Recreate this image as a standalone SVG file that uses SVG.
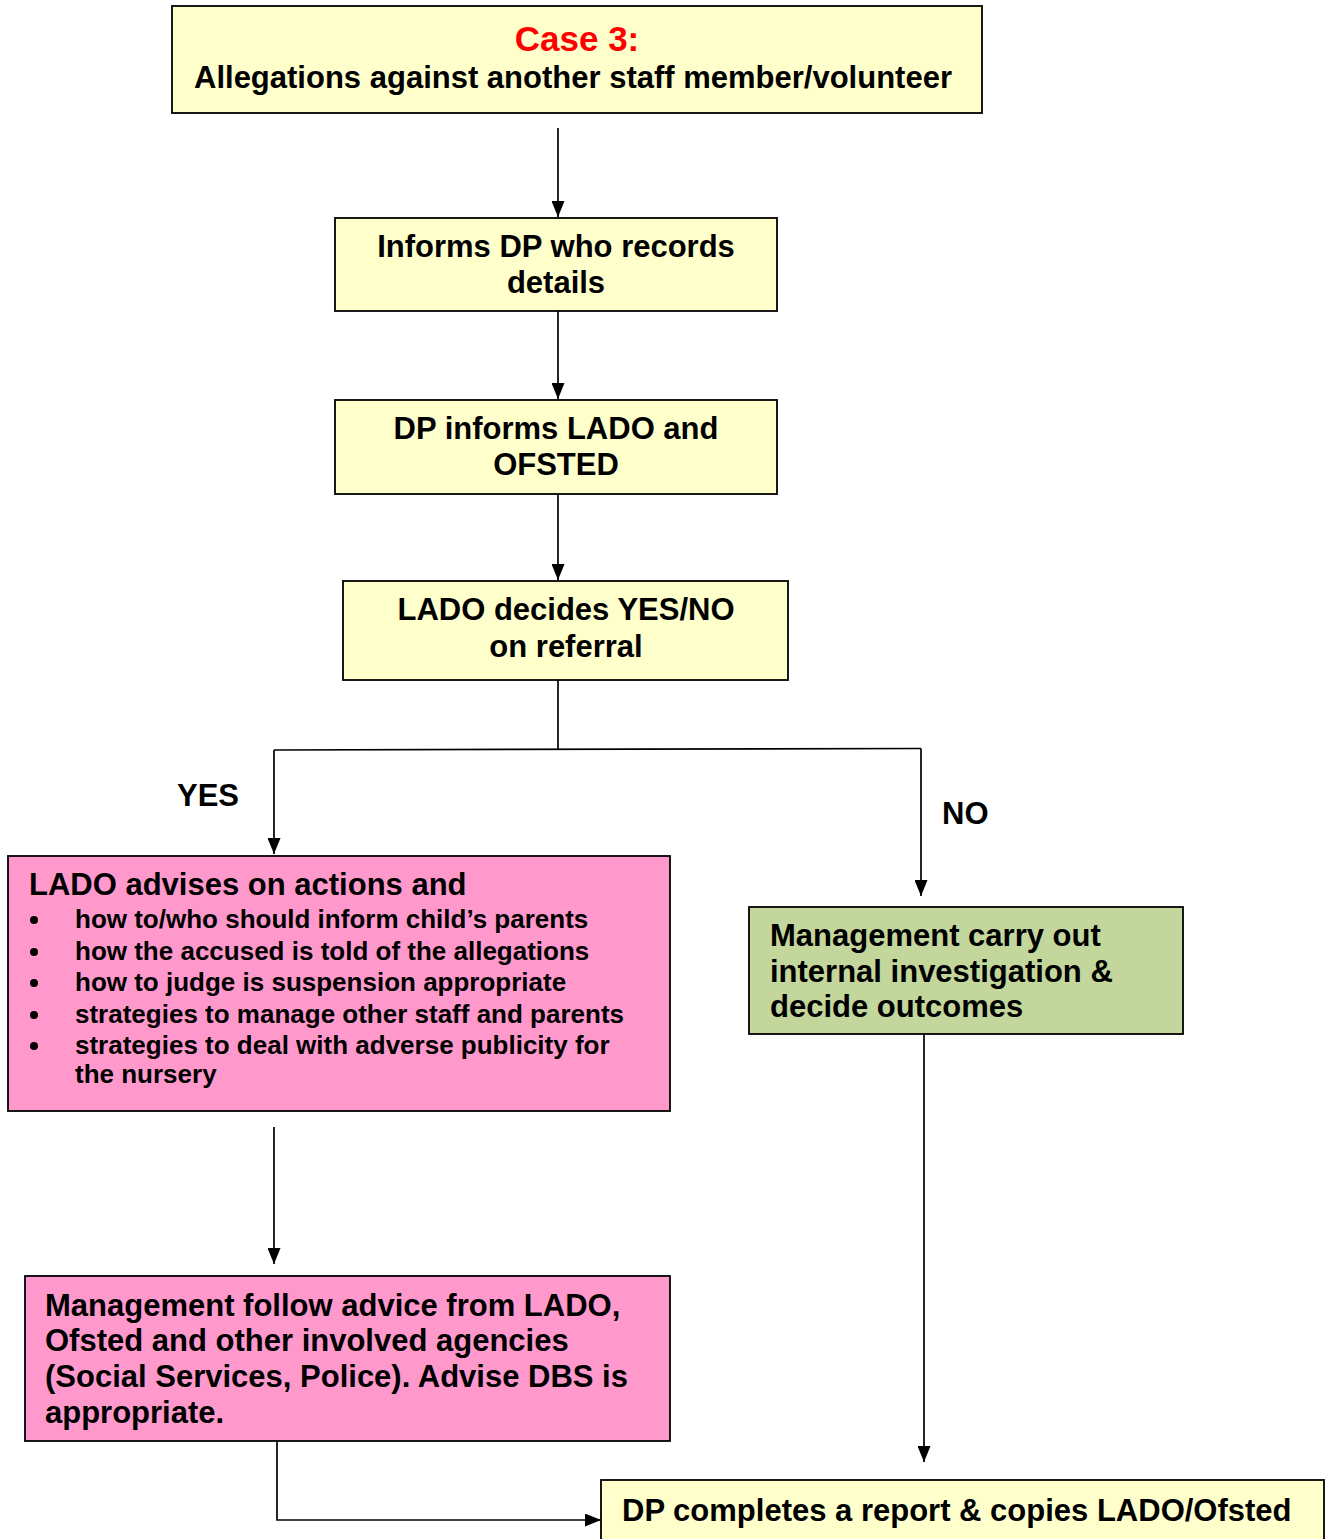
<svg xmlns="http://www.w3.org/2000/svg" width="1331" height="1539" viewBox="0 0 1331 1539">
<style>
  .box { stroke: #000; stroke-width: 1.8; }
  .yellow { fill: #FFFFCC; }
  .pink { fill: #FF99CC; }
  .green { fill: #C3D69B; }
  text { font-family: "Liberation Sans", Arial, sans-serif; font-weight: bold; fill: #000; }
  .t31 { font-size: 31px; }
  .t26 { font-size: 26px; }
  .mid { text-anchor: middle; }
  .conn { stroke: #000; stroke-width: 1.7; fill: none; }
</style>
<defs>
  <marker id="arr" markerUnits="userSpaceOnUse" markerWidth="16" markerHeight="13" viewBox="0 0 16 13" refX="16" refY="6.5" orient="auto">
    <path d="M0,0 L16,6.5 L0,13 Z" fill="#000"/>
  </marker>
</defs>
<rect width="1331" height="1539" fill="#fff"/>

<g id="connectors">
  <line class="conn" x1="558" y1="128" x2="558" y2="217" marker-end="url(#arr)"/>
  <line class="conn" x1="558" y1="311" x2="558" y2="399" marker-end="url(#arr)"/>
  <line class="conn" x1="558" y1="494" x2="558" y2="580" marker-end="url(#arr)"/>
  <line class="conn" x1="558" y1="680" x2="558" y2="749"/>
  <line class="conn" x1="274" y1="750" x2="921" y2="748.5"/>
  <line class="conn" x1="274" y1="750" x2="274" y2="854" marker-end="url(#arr)"/>
  <line class="conn" x1="921" y1="748.5" x2="921" y2="896" marker-end="url(#arr)"/>
  <line class="conn" x1="274" y1="1127" x2="274" y2="1264" marker-end="url(#arr)"/>
  <line class="conn" x1="924" y1="1034" x2="924" y2="1462" marker-end="url(#arr)"/>
  <polyline class="conn" points="277,1441 277,1520 601,1520" marker-end="url(#arr)"/>
</g>

<g id="labels">
  <text class="t31" x="177" y="806">YES</text>
  <text class="t31" x="942" y="824">NO</text>
</g>

<g id="case3">
  <rect class="box yellow" x="172" y="6" width="810" height="107"/>
  <text class="mid" x="577" y="51" font-size="35" style="fill:#FF0000">Case 3:</text>
  <text class="t31 mid" x="573" y="88">Allegations against another staff member/volunteer</text>
</g>

<g id="informs-dp">
  <rect class="box yellow" x="335" y="218" width="442" height="93"/>
  <text class="t31 mid" x="556" y="257">Informs DP who records</text>
  <text class="t31 mid" x="556" y="293">details</text>
</g>

<g id="dp-informs-lado">
  <rect class="box yellow" x="335" y="400" width="442" height="94"/>
  <text class="t31 mid" x="556" y="439">DP informs LADO and</text>
  <text class="t31 mid" x="556" y="475">OFSTED</text>
</g>

<g id="lado-decides">
  <rect class="box yellow" x="343" y="581" width="445" height="99"/>
  <text class="t31 mid" x="566" y="620">LADO decides YES/NO</text>
  <text class="t31 mid" x="566" y="657">on referral</text>
</g>

<g id="lado-advises">
  <rect class="box pink" x="8" y="856" width="662" height="255"/>
  <text x="29" y="895" font-size="31">LADO advises on actions and</text>
  <g class="t26">
    <circle cx="34" cy="920" r="4" fill="#000"/>
    <text x="75" y="928">how to/who should inform child’s parents</text>
    <circle cx="34" cy="952" r="4" fill="#000"/>
    <text x="75" y="960">how the accused is told of the allegations</text>
    <circle cx="34" cy="983" r="4" fill="#000"/>
    <text x="75" y="991">how to judge is suspension appropriate</text>
    <circle cx="34" cy="1015" r="4" fill="#000"/>
    <text x="75" y="1023">strategies to manage other staff and parents</text>
    <circle cx="34" cy="1046" r="4" fill="#000"/>
    <text x="75" y="1054">strategies to deal with adverse publicity for</text>
    <text x="75" y="1083">the nursery</text>
  </g>
</g>

<g id="management-investigation">
  <rect class="box green" x="749" y="907" width="434" height="127"/>
  <text class="t31" x="770" y="946">Management carry out</text>
  <text class="t31" x="770" y="982">internal investigation &amp;</text>
  <text class="t31" x="770" y="1017">decide outcomes</text>
</g>

<g id="management-follow">
  <rect class="box pink" x="25" y="1276" width="645" height="165"/>
  <text class="t31" x="45" y="1316">Management follow advice from LADO,</text>
  <text class="t31" x="45" y="1351">Ofsted and other involved agencies</text>
  <text class="t31" x="45" y="1387">(Social Services, Police). Advise DBS is</text>
  <text class="t31" x="45" y="1423">appropriate.</text>
</g>

<g id="dp-completes">
  <rect class="box yellow" x="601" y="1480" width="723" height="70"/>
  <text class="t31" x="622" y="1521">DP completes a report &amp; copies LADO/Ofsted</text>
</g>
</svg>
